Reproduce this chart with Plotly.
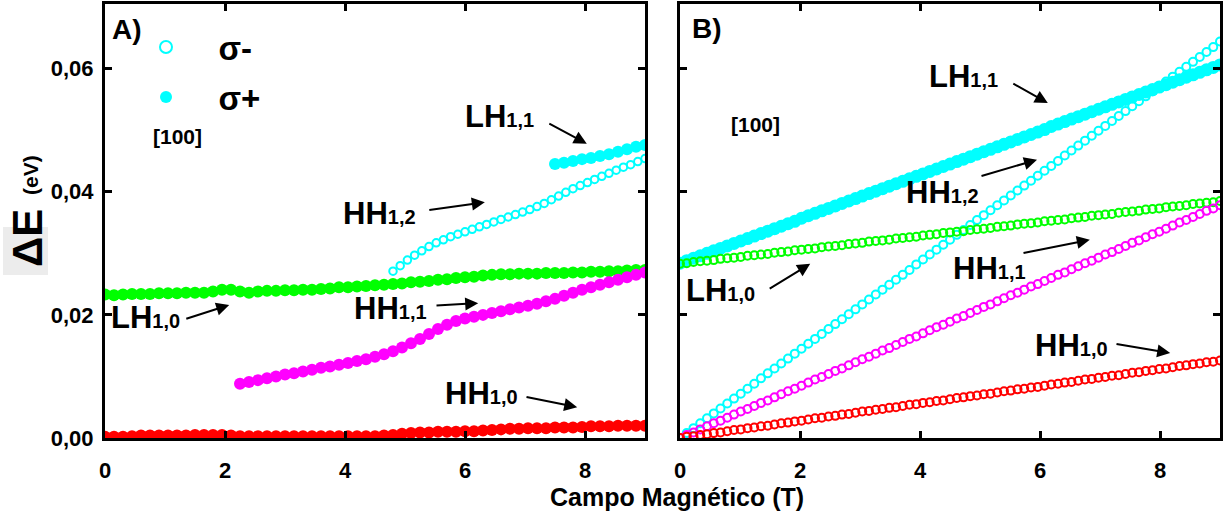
import numpy as np
import plotly.graph_objects as go

FONT = "Liberation Sans, Arial, sans-serif"

# ---------------- data (energies in meV) ----------------
# Panel A: measured splittings, field sampled every 0.15 T
field_a = np.round(np.linspace(0.0, 9.0, 61), 3)

lh10_a = [23.3, 23.2, 23.3, 23.4, 23.4, 23.4, 23.5, 23.5, 23.5, 23.6,
          23.6, 23.6, 23.8, 24.1, 24.1, 23.8, 23.6, 23.8, 23.9, 23.9,
          24.0, 24.0, 24.1, 24.1, 24.2, 24.3, 24.5, 24.5, 24.6, 24.7,
          24.8, 24.9, 25.0, 25.1, 25.3, 25.4, 25.5, 25.7, 25.8, 26.0,
          26.1, 26.2, 26.4, 26.5, 26.6, 26.6, 26.7, 26.7, 26.7, 26.8,
          26.8, 26.8, 26.9, 26.9, 27.0, 27.0, 27.1, 27.1, 27.2, 27.3,
          27.3]

hh10_a = [0.2, 0.2, 0.2, 0.3, 0.4, 0.4, 0.4, 0.4, 0.4, 0.4,
          0.5, 0.5, 0.5, 0.5, 0.4, 0.3, 0.3, 0.3, 0.3, 0.3,
          0.3, 0.3, 0.3, 0.3, 0.3, 0.3, 0.3, 0.3, 0.3, 0.3,
          0.3, 0.4, 0.5, 0.7, 0.8, 0.9, 0.9, 1.0, 1.0, 1.0,
          1.1, 1.1, 1.2, 1.3, 1.4, 1.5, 1.5, 1.6, 1.6, 1.6,
          1.7, 1.7, 1.7, 1.8, 1.9, 1.9, 1.9, 2.0, 2.0, 2.0,
          2.0]

# HH1,1 starts at 2.25 T (index 15 of field_a)
hh11_a = [8.8, 9.1, 9.4, 9.7, 10.0, 10.3, 10.5, 10.8, 11.1, 11.4,
          11.6, 11.9, 12.2, 12.5, 12.8, 13.2, 13.6, 14.1, 14.7, 15.4,
          16.1, 16.9, 17.7, 18.4, 19.0, 19.4, 19.7, 20.0, 20.3, 20.6,
          20.9, 21.2, 21.5, 21.8, 22.2, 22.6, 23.1, 23.6, 24.1, 24.5,
          24.9, 25.3, 25.7, 26.1, 26.5, 26.9]

# HH1,2 (sigma-) sampled every 0.12 T from 4.8 T
field_hh12_a = np.round(np.linspace(4.8, 9.0, 36), 3)
hh12_a = [27.1, 28.0, 28.9, 29.7, 30.4, 31.1, 31.7, 32.2, 32.7, 33.1,
          33.5, 33.9, 34.3, 34.7, 35.1, 35.5, 35.9, 36.3, 36.7, 37.1,
          37.6, 38.1, 38.7, 39.3, 39.9, 40.5, 41.0, 41.5, 42.0, 42.5,
          43.0, 43.5, 44.0, 44.4, 44.9, 45.4]

# LH1,1 (sigma+) from 7.5 T (index 50 of field_a)
lh11_a = [44.5, 44.7, 45.0, 45.3, 45.5, 45.8, 46.1, 46.5, 46.9, 47.3, 47.6]

# Panel B: calculated splittings, 81 field points from 0 to 9 T
field_b = np.round(np.linspace(0.0, 9.0, 81), 4)

hh10_b = [0.0, 0.2, 0.3, 0.5, 0.6, 0.8, 0.9, 1.1, 1.3, 1.4,
          1.6, 1.7, 1.9, 2.0, 2.2, 2.4, 2.5, 2.7, 2.8, 3.0,
          3.2, 3.3, 3.5, 3.6, 3.8, 3.9, 4.1, 4.3, 4.4, 4.6,
          4.7, 4.9, 5.0, 5.2, 5.4, 5.5, 5.7, 5.8, 6.0, 6.1,
          6.3, 6.5, 6.6, 6.8, 6.9, 7.1, 7.2, 7.4, 7.6, 7.7,
          7.9, 8.0, 8.2, 8.3, 8.5, 8.7, 8.8, 9.0, 9.1, 9.3,
          9.5, 9.6, 9.8, 9.9, 10.1, 10.2, 10.4, 10.6, 10.7, 10.9,
          11.0, 11.2, 11.3, 11.5, 11.7, 11.8, 12.0, 12.1, 12.3, 12.4,
          12.6]

hh11_b = [0.0, 0.5, 0.9, 1.4, 1.9, 2.4, 2.8, 3.3, 3.8, 4.3,
          4.7, 5.2, 5.7, 6.1, 6.6, 7.1, 7.6, 8.0, 8.5, 9.0,
          9.5, 9.9, 10.4, 10.9, 11.3, 11.8, 12.3, 12.8, 13.2, 13.7,
          14.2, 14.6, 15.1, 15.6, 16.1, 16.5, 17.0, 17.5, 18.0, 18.4,
          18.9, 19.4, 19.8, 20.3, 20.8, 21.3, 21.7, 22.2, 22.7, 23.2,
          23.6, 24.1, 24.6, 25.0, 25.5, 26.0, 26.5, 26.9, 27.4, 27.9,
          28.4, 28.8, 29.3, 29.8, 30.2, 30.7, 31.2, 31.7, 32.1, 32.6,
          33.1, 33.5, 34.0, 34.5, 35.0, 35.4, 35.9, 36.4, 36.9, 37.3,
          37.8]

hh12_b = [0.0, 0.8, 1.6, 2.4, 3.2, 4.0, 4.8, 5.6, 6.4, 7.2,
          8.0, 8.8, 9.7, 10.5, 11.3, 12.1, 12.9, 13.7, 14.5, 15.3,
          16.1, 16.9, 17.7, 18.5, 19.3, 20.1, 20.9, 21.7, 22.5, 23.3,
          24.1, 24.9, 25.7, 26.5, 27.3, 28.2, 29.0, 29.8, 30.6, 31.4,
          32.2, 33.0, 33.8, 34.6, 35.4, 36.2, 37.0, 37.8, 38.6, 39.4,
          40.2, 41.0, 41.8, 42.6, 43.4, 44.2, 45.0, 45.9, 46.7, 47.5,
          48.3, 49.1, 49.9, 50.7, 51.5, 52.3, 53.1, 53.9, 54.7, 55.5,
          56.3, 57.1, 57.9, 58.7, 59.5, 60.3, 61.1, 61.9, 62.7, 63.5,
          64.4]

lh10_b = [28.3, 28.4, 28.6, 28.7, 28.8, 28.9, 29.1, 29.2, 29.3, 29.4,
          29.6, 29.7, 29.8, 29.9, 30.1, 30.2, 30.3, 30.5, 30.6, 30.7,
          30.8, 31.0, 31.1, 31.2, 31.3, 31.5, 31.6, 31.7, 31.9, 32.0,
          32.1, 32.2, 32.4, 32.5, 32.6, 32.7, 32.9, 33.0, 33.1, 33.3,
          33.4, 33.5, 33.6, 33.8, 33.9, 34.0, 34.1, 34.3, 34.4, 34.5,
          34.7, 34.8, 34.9, 35.0, 35.2, 35.3, 35.4, 35.5, 35.7, 35.8,
          35.9, 36.1, 36.2, 36.3, 36.4, 36.6, 36.7, 36.8, 36.9, 37.1,
          37.2, 37.3, 37.5, 37.6, 37.7, 37.8, 38.0, 38.1, 38.2, 38.3,
          38.5]

lh11_b = [28.4, 28.8, 29.2, 29.6, 30.0, 30.4, 30.8, 31.2, 31.6, 32.0,
          32.4, 32.8, 33.2, 33.6, 34.0, 34.4, 34.8, 35.2, 35.7, 36.1,
          36.5, 36.9, 37.3, 37.7, 38.1, 38.5, 38.9, 39.3, 39.7, 40.1,
          40.5, 40.9, 41.3, 41.7, 42.1, 42.5, 42.9, 43.3, 43.7, 44.1,
          44.5, 44.9, 45.3, 45.7, 46.1, 46.5, 46.9, 47.3, 47.7, 48.1,
          48.5, 48.9, 49.3, 49.7, 50.1, 50.6, 51.0, 51.4, 51.8, 52.2,
          52.6, 53.0, 53.4, 53.8, 54.2, 54.6, 55.0, 55.4, 55.8, 56.2,
          56.6, 57.0, 57.4, 57.8, 58.2, 58.6, 59.0, 59.4, 59.8, 60.2,
          60.6]

x_ticks = [0, 2, 4, 6, 8]
y_ticks = [0.0, 0.02, 0.04, 0.06]

CYAN, GREEN, MAGENTA, RED = "#00FFFF", "#00FF00", "#FF00FF", "#FF0000"


def ev(values):
    return np.array(values) / 1000.0


def filled(color, size=12):
    return dict(symbol="circle", size=size, color=color, line=dict(width=0))


def hollow(color, size=7.5, width=2):
    return dict(symbol="circle-open", size=size, color=color, line=dict(width=width, color=color))


fig = go.Figure()

# ---- panel A ----
fig.add_trace(go.Scatter(x=field_a, y=ev(lh10_a), mode="markers", marker=filled(GREEN),
                         xaxis="x", yaxis="y", showlegend=False))
fig.add_trace(go.Scatter(x=field_a, y=ev(hh10_a), mode="markers", marker=filled(RED),
                         xaxis="x", yaxis="y", showlegend=False))
fig.add_trace(go.Scatter(x=field_a[15:], y=ev(hh11_a), mode="markers", marker=filled(MAGENTA),
                         xaxis="x", yaxis="y", showlegend=False))
fig.add_trace(go.Scatter(x=field_hh12_a, y=ev(hh12_a), mode="markers", marker=hollow(CYAN),
                         xaxis="x", yaxis="y", name="\u00a0\u00a0\u00a0σ-", legend="legend",
                         showlegend=True))
fig.add_trace(go.Scatter(x=field_a[50:], y=ev(lh11_a), mode="markers", marker=filled(CYAN),
                         xaxis="x", yaxis="y", name="\u00a0\u00a0\u00a0σ+", legend="legend2",
                         showlegend=True))

# ---- panel B ----
fig.add_trace(go.Scatter(x=field_b, y=ev(lh11_b), mode="markers", marker=filled(CYAN, 13),
                         xaxis="x2", yaxis="y2", showlegend=False))
fig.add_trace(go.Scatter(x=field_b, y=ev(hh12_b), mode="markers", marker=hollow(CYAN, 8),
                         xaxis="x2", yaxis="y2", showlegend=False))
fig.add_trace(go.Scatter(x=field_b, y=ev(lh10_b), mode="markers", marker=hollow(GREEN, 8),
                         xaxis="x2", yaxis="y2", showlegend=False))
fig.add_trace(go.Scatter(x=field_b, y=ev(hh11_b), mode="markers", marker=hollow(MAGENTA, 8),
                         xaxis="x2", yaxis="y2", showlegend=False))
fig.add_trace(go.Scatter(x=field_b, y=ev(hh10_b), mode="markers", marker=hollow(RED, 8),
                         xaxis="x2", yaxis="y2", showlegend=False))

W, H = 1225, 513
x_dom_a = [105 / W, 645 / W]
x_dom_b = [680 / W, 1220 / W]
y_dom = [75 / H, 509 / H]

tick_font = dict(family=FONT, size=22, color="black", weight="bold")
axis_common = dict(showline=True, linecolor="black", linewidth=3, mirror="allticks",
                   ticks="inside", ticklen=7, tickwidth=2.5, tickcolor="black",
                   showgrid=False, zeroline=False, tickfont=tick_font, automargin=False)

legend_common = dict(xanchor="left", yanchor="middle", bgcolor="rgba(0,0,0,0)",
                     borderwidth=0, itemwidth=40,
                     font=dict(family=FONT, size=33, color="black", weight="bold"))

fig.update_layout(
    width=W, height=H,
    margin=dict(l=0, r=0, t=0, b=0, autoexpand=False),
    paper_bgcolor="white", plot_bgcolor="white",
    separators=",.",
    font=dict(family=FONT, color="black"),
    xaxis=dict(domain=x_dom_a, range=[0, 9], tickvals=x_ticks, anchor="y",
               ticklabelstandoff=11, **axis_common),
    xaxis2=dict(domain=x_dom_b, range=[0, 9], tickvals=x_ticks, anchor="y2",
                ticklabelstandoff=11, **axis_common),
    yaxis=dict(domain=y_dom, range=[0, 0.0705], tickvals=y_ticks, tickformat=".2f",
               anchor="x", ticklabelstandoff=4, **axis_common),
    yaxis2=dict(domain=y_dom, range=[0, 0.0705], tickvals=y_ticks, showticklabels=False,
                anchor="x2", **axis_common),
    legend=dict(x=141 / W, y=1 - 47 / H, itemsizing="constant", **legend_common),
    legend2=dict(x=141 / W, y=1 - 97 / H, itemsizing="trace", **legend_common),
)

annotations = []


def label(text, x, y, xr, yr, size=22):
    annotations.append(dict(text=text, x=x, y=y, xref=xr, yref=yr, showarrow=False,
                            xanchor="center", yanchor="middle",
                            font=dict(family=FONT, size=size, color="black", weight="bold")))


def arrow(tail, head, xr, yr):
    annotations.append(dict(text="", x=head[0], y=head[1], ax=tail[0], ay=tail[1],
                            xref=xr, yref=yr, axref=xr, ayref=yr, showarrow=True,
                            arrowhead=2, arrowsize=1.3, arrowwidth=2, arrowcolor="black",
                            standoff=0, startstandoff=0))


def state(name, sub):
    return f"{name}<span style='font-size:20px'>{sub}</span>"


# panel A labels (field in T, energy in eV)
label("A)", 0.37, 0.0663, "x", "y", 28)
label("[100]", 1.2, 0.0490, "x", "y", 21)
label(state("LH", "1,1"), 6.58, 0.0523, "x", "y", 31)
arrow((7.38, 0.0512), (8.03, 0.0478), "x", "y")
label(state("HH", "1,2"), 4.57, 0.0364, "x", "y", 31)
arrow((5.38, 0.0370), (6.33, 0.0383), "x", "y")
label(state("HH", "1,1"), 4.75, 0.0210, "x", "y", 31)
arrow((5.5, 0.0215), (6.22, 0.0219), "x", "y")
label(state("LH", "1,0"), 0.68, 0.0195, "x", "y", 31)
arrow((1.33, 0.0193), (2.07, 0.0216), "x", "y")
label(state("HH", "1,0"), 6.28, 0.0073, "x", "y", 31)
arrow((7.0, 0.0067), (7.87, 0.0050), "x", "y")

# panel B labels
label("B)", 0.45, 0.0665, "x2", "y2", 28)
label("[100]", 1.25, 0.0510, "x2", "y2", 21)
label(state("LH", "1,1"), 4.72, 0.0587, "x2", "y2", 31)
arrow((5.53, 0.0577), (6.13, 0.0544), "x2", "y2")
label(state("HH", "1,2"), 4.37, 0.0398, "x2", "y2", 31)
arrow((5.0, 0.0425), (5.95, 0.0452), "x2", "y2")
label(state("HH", "1,1"), 5.15, 0.0275, "x2", "y2", 31)
arrow((5.7, 0.0300), (6.83, 0.0322), "x2", "y2")
label(state("LH", "1,0"), 0.68, 0.0239, "x2", "y2", 31)
arrow((1.47, 0.0241), (2.17, 0.0283), "x2", "y2")
label(state("HH", "1,0"), 6.53, 0.0151, "x2", "y2", 31)
arrow((7.25, 0.0153), (8.17, 0.0138), "x2", "y2")

# axis titles
annotations.append(dict(text="Campo Magnético (T)", x=677 / W, y=1 - 497 / H,
                        xref="paper", yref="paper", showarrow=False,
                        xanchor="center", yanchor="middle",
                        font=dict(family=FONT, size=25, color="black", weight="bold")))
annotations.append(dict(text="ΔE", x=27 / W, y=1 - 238 / H, xref="paper", yref="paper",
                        showarrow=False, textangle=-90, xanchor="center", yanchor="middle",
                        font=dict(family=FONT, size=42, color="black", weight="bold")))
annotations.append(dict(text="(eV)", x=31 / W, y=1 - 175 / H, xref="paper", yref="paper",
                        showarrow=False, textangle=-90, xanchor="center", yanchor="middle",
                        font=dict(family=FONT, size=21, color="black", weight="bold")))

fig.update_layout(annotations=annotations)

# light box behind the energy symbol
fig.add_shape(type="rect", xref="paper", yref="paper", x0=3 / W, x1=48 / W,
              y0=1 - 275 / H, y1=1 - 227 / H, fillcolor="#ececec", line=dict(width=0),
              layer="below")

fig.write_html("out.html")
